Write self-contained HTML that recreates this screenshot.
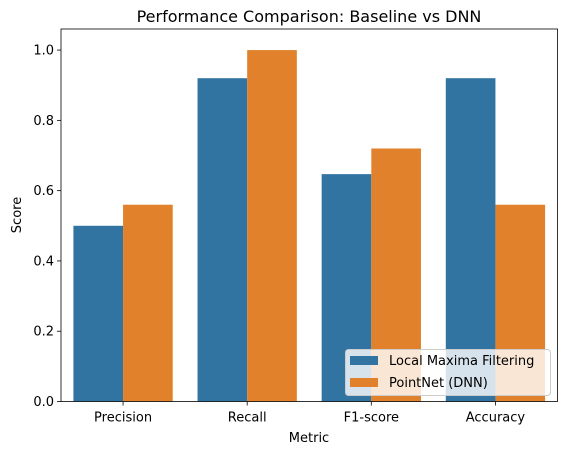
<!DOCTYPE html>
<html><head><meta charset="utf-8"><style>
body{margin:0;background:#fff}
svg{font-family:"DejaVu Sans","Liberation Sans",sans-serif}
</style></head><body>
<svg id="chart" width="567" height="455" viewBox="0 0 567 455" xmlns="http://www.w3.org/2000/svg">
<rect width="567" height="455" fill="#fff"/>
<text x="309" y="22" text-anchor="middle" font-size="16" fill="#000">Performance Comparison: Baseline vs DNN</text>
<g id="bars"></g>
<g id="axes"></g>
<text x="309" y="442" text-anchor="middle" font-size="13">Metric</text>
<text transform="translate(21,215) rotate(-90)" text-anchor="middle" font-size="13">Score</text>
<g>
<rect x="345.5" y="349.5" width="205" height="46" rx="3" fill="#fff" fill-opacity="0.8" stroke="#ccc"/>
<rect x="350" y="356" width="28" height="9" fill="#3274a1"/>
<text x="389" y="365" font-size="13">Local Maxima Filtering</text>
<rect x="350" y="378" width="28" height="9" fill="#e1812c"/>
<text x="389" y="387" font-size="13">PointNet (DNN)</text>
</g>
</svg>
<script>
const categories = ["Precision","Recall","F1-score","Accuracy"];
const baselineValues = [0.5,0.92,0.647,0.92];
const dnnValues = [0.56,1.0,0.72,0.56];
const yTicks = [0.0,0.2,0.4,0.6,0.8,1.0];
const yTickLabels = ["0.0","0.2","0.4","0.6","0.8","1.0"];

const NS="http://www.w3.org/2000/svg";
const L=61,R=557.5,T=29,B=401.5;
const yMax=1.06;
function y(v){return B-(v/yMax)*(B-T);}
const step=(R-L)/categories.length;
function xc(i){return L+step*(i+0.5);}
const bw=step*0.8/2;
const bars=document.getElementById('bars'), axes=document.getElementById('axes');
function mk(t,a,p){const e=document.createElementNS(NS,t);for(const k in a)e.setAttribute(k,a[k]);p.appendChild(e);return e;}
categories.forEach((c,i)=>{
  const b=mk('rect',{x:xc(i)-bw,y:y(baselineValues[i]),width:bw,height:B-y(baselineValues[i]),fill:'#3274a1'},bars);
  
  
  const d=mk('rect',{x:xc(i),y:y(dnnValues[i]),width:bw,height:B-y(dnnValues[i]),fill:'#e1812c'},bars);
  
  
  mk('line',{x1:xc(i),x2:xc(i),y1:B,y2:B+4,stroke:'#000','stroke-width':0.8},axes);
  const t=mk('text',{x:xc(i),y:B+20,'text-anchor':'middle','font-size':13},axes);
  t.textContent=c;
  
  
});
yTicks.forEach((v,i)=>{
  mk('line',{x1:L-4,x2:L,y1:y(v),y2:y(v),stroke:'#000','stroke-width':0.8},axes);
  const t=mk('text',{x:L-7,y:y(v)+4.5,'text-anchor':'end','font-size':13},axes);
  t.textContent=yTickLabels[i];
  
  
});
const f=mk('rect',{x:L,y:T,width:R-L,height:B-T,fill:'none',stroke:'#000','stroke-width':0.8},axes);


</script>
</body></html>
